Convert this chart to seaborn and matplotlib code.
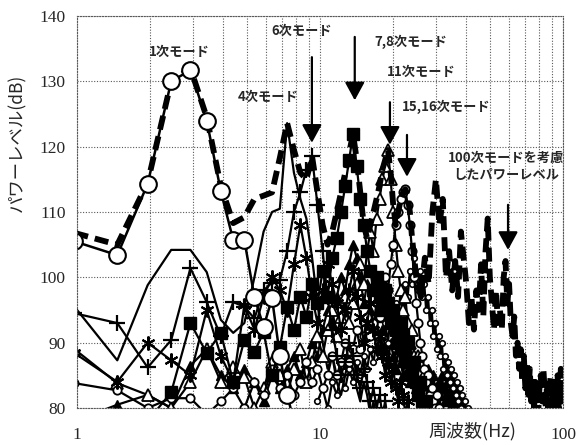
import numpy as np
import matplotlib
matplotlib.use("Agg")
import matplotlib.pyplot as plt
import seaborn as sns

# FFT bin width of the measured spectra (Hz)
DF = 1000 / 2048

# 1st mode (large open circles), starts at bin 2
circ_vals = [105.5, 103.4, 114.3, 130.0, 131.7, 124.0, 113.2, 105.7, 105.7, 97.0,
             92.4, 96.8, 88.0, 82.0, 78.0, 76.0]
# 4th mode, plain line
line_vals = [95.5, 87.3, 98.8, 104.2, 104.2, 100.8, 93.5, 91.5, 93.0, 100.0,
             107.0, 110.0, 110.5, 123.6, 116.0, 112.0, 109.0, 103.0, 96.0, 90.0,
             86.0, 88.0, 84.0, 82.0, 85.0, 88.0, 86.0, 83.0, 81.0, 84.0,
             82.0, 79.0, 81.0, 78.0, 76.0]
# 6th mode, "+" markers
plus_vals = [94.5, 93.0, 86.2, 90.4, 101.4, 96.2, 91.0, 96.2, 95.5, 93.7,
             98.0, 99.2, 99.6, 104.0, 110.0, 113.0, 116.5, 118.5, 111.0, 104.0,
             97.0, 92.0, 88.0, 85.0, 87.0, 90.0, 88.0, 85.0, 83.0, 86.0,
             84.0, 81.0, 83.0, 80.0, 82.0, 79.0, 81.0, 78.0]
# asterisk markers
star_vals = [88.4, 84.0, 90.0, 87.3, 85.0, 95.0, 88.0, 84.0, 95.7, 92.0,
             97.0, 100.0, 98.0, 95.0, 102.0, 108.0, 103.0, 97.0, 93.0, 98.0,
             102.0, 99.0, 96.0, 92.0, 95.0, 98.0, 101.0, 97.0, 94.0, 90.0,
             93.0, 96.0, 92.0, 89.0, 91.0, 88.0, 85.0, 87.0, 84.0, 86.0,
             83.0, 81.0, 84.0, 82.0, 79.0, 81.0]
# 7,8th mode, filled squares
sq_vals = [78.0, 76.0, 78.0, 82.4, 93.0, 88.4, 91.5, 84.0, 90.4, 88.6,
           91.6, 85.0, 89.3, 95.4, 92.0, 97.0, 94.0, 99.0, 96.0, 101.0,
           97.0, 103.0, 106.0, 110.0, 114.0, 118.0, 122.0, 117.0, 112.0, 108.0,
           104.0, 101.0, 98.0, 100.0, 97.0, 95.0, 98.0, 96.0, 93.0, 95.0,
           92.0, 90.0, 93.0, 91.0, 88.0, 90.0, 87.0, 85.0, 87.0, 84.0,
           82.0, 84.0, 81.0, 79.0, 81.0, 78.0]
# 11th mode, open triangles
tri_vals = [89.0, 83.8, 82.0, 80.0, 84.0, 89.0, 84.0, 86.2, 84.7, 80.0,
            83.0, 87.0, 85.0, 82.0, 86.0, 89.0, 84.0, 87.0, 91.0, 88.0,
            92.0, 95.0, 91.0, 94.0, 97.0, 93.0, 96.0, 99.0, 102.0, 99.0,
            104.0, 107.0, 104.0, 109.0, 112.0, 115.0, 117.0, 119.5, 115.0, 110.0,
            105.0, 101.0, 98.0, 95.0, 97.0, 93.0, 90.0, 92.0, 88.0, 86.0,
            88.0, 85.0, 83.0, 85.0, 82.0, 84.0, 81.0, 83.0, 80.0, 82.0, 79.0]
# 15,16th mode, small open circles
sc_vals = [83.8, 82.7, 80.0, 81.5, 81.5, 79.0, 81.0, 83.0, 80.0, 84.0,
           82.0, 86.0, 83.0, 85.0, 82.0, 84.0, 87.0, 84.0, 86.0, 83.0,
           85.0, 88.0, 85.0, 87.0, 90.0, 87.0, 89.0, 92.0, 89.0, 91.0,
           94.0, 91.0, 93.0, 96.0, 94.0, 97.0, 100.0, 98.0, 102.0, 105.0,
           108.0, 110.0, 112.0, 113.0, 113.5, 111.0, 108.0, 104.0, 100.0, 96.0,
           93.0, 90.0, 88.0, 86.0, 84.0, 85.0, 82.0, 83.0, 81.0, 80.0,
           82.0, 80.0, 79.0]
# filled triangles
trif_vals = [78, 80.5, 82, 80, 86.5, 89, 85, 83, 86, 84,
             81, 85, 83, 86, 88, 85, 87, 90, 88, 92,
             95, 93, 97, 100, 98, 102, 105, 103, 100, 96,
             99, 95, 92, 94, 90, 92, 89, 87, 90, 88,
             86, 89, 87, 85, 88, 86, 84, 87, 85, 83,
             86, 84, 82, 85, 83, 86, 84, 82, 85, 83,
             81, 84, 82, 85, 83, 81, 84, 82, 80, 83,
             81, 79, 82, 80, 78, 81, 79, 77]
# higher mode, small dots, starts at bin 20
dot_vals = [81, 83, 80, 84, 82, 85, 83, 86, 84, 87,
            85, 88, 86, 89, 87, 90, 88, 91, 93, 90,
            94, 92, 96, 94, 98, 96, 99, 97, 101, 99,
            103, 100, 98, 101, 97, 99, 95, 97, 93, 95,
            91, 93, 89, 91, 88, 90, 86, 88, 85, 87,
            84, 86, 83, 85, 82, 84, 81, 83, 80, 82,
            79, 81, 78, 80, 77, 79, 76, 78, 75, 77,
            74, 76, 73]
# power level including 100 modes: bins 2..51, then 26..100 Hz
env_lo = [106.8, 105.0, 114.5, 130.0, 132.0, 124.5, 114.0, 108.3, 109.2, 112.0,
          112.5, 113.0, 118.3, 123.6, 119.5, 116.0, 115.0, 118.5, 113.0, 108.0,
          105.0, 107.0, 110.0, 113.0, 116.0, 119.0, 122.0, 118.0, 113.0, 108.0,
          106.0, 108.0, 110.0, 112.0, 114.0, 116.5, 118.0, 119.5, 116.0, 111.0,
          108.0, 110.0, 112.0, 113.0, 113.5, 112.5, 110.0, 106.0, 103.0, 100.0]
env_hi = [97, 103, 99, 110, 115, 108, 112, 100, 104, 98,
          102.5, 97, 107, 103, 99, 93, 97, 92, 98, 95,
          102, 94, 104, 109, 100, 96, 92, 98, 93, 95,
          92, 100, 102.5, 96, 99, 93, 91, 94, 88, 90,
          86, 89, 84, 88, 83, 87, 82, 86, 81, 84,
          80, 84, 82, 79, 83, 85, 81, 86, 83, 80,
          84, 80, 83, 85, 81, 83, 79, 84, 82, 85,
          80, 83, 86, 81, 84]

labels = [("1次モード", 2.63, 134.5), ("4次モード", 6.11, 127.6),
          ("6次モード", 8.43, 137.7), ("7,8次モード", 23.7, 136.0),
          ("11次モード", 26.1, 131.4), ("15,16次モード", 33.0, 126.1),
          ("100次モードを考慮\nしたパワーレベル", 58.3, 117.0)]
# arrows: frequency, top, tip
arrows = [(9.26, 133.7, 120.6), (13.9, 136.8, 127.1), (19.4, 126.8, 120.3),
          (22.8, 121.8, 115.4), (59.4, 111.1, 104.2)]


def freqs(vals, k0=2):
    return DF * np.arange(k0, k0 + len(vals))


sns.set_style("white")
plt.rcParams["font.family"] = ["Liberation Serif", "DejaVu Serif"]
jp = ["Noto Sans CJK JP", "DejaVu Sans"]

fig = plt.figure(figsize=(5.76, 4.45), dpi=100)
ax = fig.add_axes([77 / 576, 1 - 408 / 445, 486 / 576, 392 / 445])

thin = dict(color="black", linewidth=1.6, errorbar=None, ax=ax)
sns.lineplot(x=freqs(line_vals), y=line_vals, **thin)
sns.lineplot(x=freqs(trif_vals), y=trif_vals, marker="^", markersize=7,
             markerfacecolor="black", markeredgecolor="black", markeredgewidth=1, **thin)
sns.lineplot(x=freqs(dot_vals, 20), y=dot_vals, marker="o", markersize=4,
             markerfacecolor="white", markeredgecolor="black", markeredgewidth=1.2, **thin)
sns.lineplot(x=freqs(tri_vals), y=tri_vals, marker="^", markersize=8,
             markerfacecolor="white", markeredgecolor="black", markeredgewidth=1.3, **thin)
sns.lineplot(x=freqs(sc_vals), y=sc_vals, marker="o", markersize=6,
             markerfacecolor="white", markeredgecolor="black", markeredgewidth=1.3, **thin)
sns.lineplot(x=freqs(star_vals), y=star_vals, marker=(6, 2, 0), markersize=10,
             markeredgecolor="black", markeredgewidth=1.5, **thin)
sns.lineplot(x=freqs(plus_vals), y=plus_vals, marker="+", markersize=12,
             markeredgecolor="black", markeredgewidth=1.6, **thin)
sns.lineplot(x=freqs(sq_vals), y=sq_vals, marker="s", markersize=9,
             markerfacecolor="black", markeredgecolor="black", markeredgewidth=1, **thin)

env_f = np.concatenate([freqs(env_lo), np.arange(26, 26 + len(env_hi))])
env_v = env_lo + env_hi
sns.lineplot(x=env_f, y=env_v, color="black", linewidth=4.2, errorbar=None, ax=ax)
ax.lines[-1].set_linestyle((0, (2.4, 1.2)))

sns.lineplot(x=freqs(circ_vals), y=circ_vals, marker="o", markersize=12,
             markerfacecolor="white", markeredgecolor="black", markeredgewidth=1.5,
             color="black", linewidth=1.8, errorbar=None, ax=ax)

ax.set_xscale("log")
ax.set_xlim(1, 100)
ax.set_ylim(80, 140)
ax.set_xticks([1, 10, 100], ["1", "10", "100"])
ax.set_yticks([80, 90, 100, 110, 120, 130, 140])
ax.xaxis.set_minor_locator(matplotlib.ticker.LogLocator(base=10, subs=np.arange(2, 10)))
ax.xaxis.set_minor_formatter(matplotlib.ticker.NullFormatter())
ax.tick_params(which="both", length=0, labelsize=12.5)
ax.tick_params(axis="x", pad=14)
ax.tick_params(axis="y", pad=8)
ax.grid(which="both", axis="x", color="0.35", linewidth=0.8, linestyle=(0, (1, 1.5)))
ax.grid(which="major", axis="y", color="0.35", linewidth=0.8, linestyle=(0, (1, 1.5)))
for sp in ax.spines.values():
    sp.set_linestyle((0, (1, 1.5)))
    sp.set_color("0.35")
    sp.set_linewidth(0.8)
ax.set_xlabel("")
ax.set_ylabel("")

for txt, fx, fy in labels:
    ax.text(fx, fy, txt, family=jp, fontsize=9.5, fontweight="bold",
            ha="center", va="center", linespacing=1.25, clip_on=False)

for fx, top, tip in arrows:
    ax.annotate("", xy=(fx, tip), xytext=(fx, top),
                arrowprops=dict(arrowstyle="-|>,head_length=11,head_width=6",
                                mutation_scale=1, color="black", lw=1.6,
                                shrinkA=0, shrinkB=0))

fig.text(472 / 576, 1 - 431 / 445, "周波数(Hz)", family=jp, fontsize=13,
         ha="center", va="center")
fig.text(17 / 576, 1 - 143 / 445, "パワーレベル(dB)", family=jp, fontsize=12.5,
         rotation=90, ha="center", va="center")

fig.savefig("out.png", dpi=100)
